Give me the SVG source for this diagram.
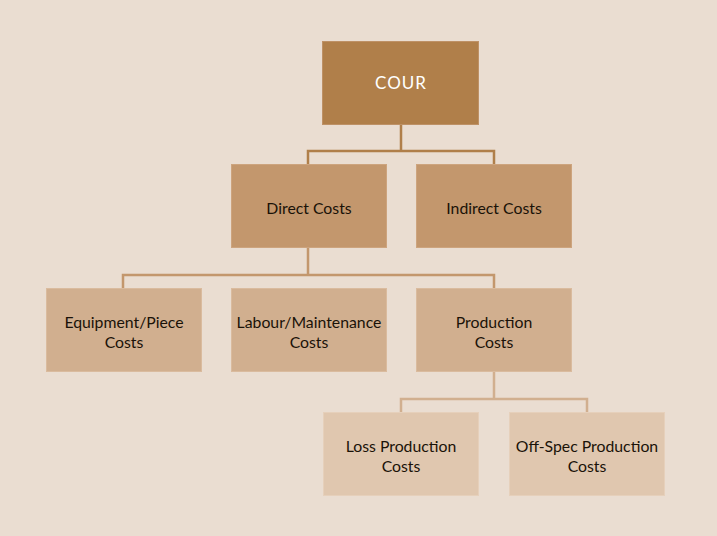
<svg xmlns="http://www.w3.org/2000/svg" width="717" height="536" viewBox="0 0 717 536">
<style>
text{font-family:"Lato","Open Sans",sans-serif;font-size:15.8px;fill:#1a1208;text-anchor:middle}
.l1{fill:#B07F4A;stroke:#BE9166;stroke-width:1}
.l2{fill:#C3976D;stroke:#CDA47E;stroke-width:1}
.l3{fill:#D1AF8F;stroke:#DABB9E;stroke-width:1}
.l4{fill:#E0C7AF;stroke:#E6D0BB;stroke-width:1}
.c{fill:none;stroke-width:2.5}
</style>
<rect width="717" height="536" fill="#EADDD1"/>
<g id="connectors">
<path class="c" stroke="#B07F4A" d="M401,124V151M308,164V151H494V164"/>
<path class="c" stroke="#C3976D" d="M308,247V275M123,288V275H494V288"/>
<path class="c" stroke="#D1AF8F" d="M494,371V399M401,412V399H587V412"/>
</g>
<g id="cour"><rect class="l1" x="322.5" y="41.5" width="156" height="83"/><text x="401" y="89" style="fill:#fff;font-size:17px;letter-spacing:1px">COUR</text></g>
<g id="direct"><rect class="l2" x="231.5" y="164.5" width="155" height="83"/><text x="309" y="214">Direct Costs</text></g>
<g id="indirect"><rect class="l2" x="416.5" y="164.5" width="155" height="83"/><text x="494" y="214">Indirect Costs</text></g>
<g id="equipment"><rect class="l3" x="46.5" y="288.5" width="155" height="83"/><text x="124" y="328">Equipment/Piece</text><text x="124" y="348">Costs</text></g>
<g id="labour"><rect class="l3" x="231.5" y="288.5" width="155" height="83"/><text x="309" y="328">Labour/Maintenance</text><text x="309" y="348">Costs</text></g>
<g id="production"><rect class="l3" x="416.5" y="288.5" width="155" height="83"/><text x="494" y="328">Production</text><text x="494" y="348">Costs</text></g>
<g id="loss"><rect class="l4" x="323.5" y="412.5" width="155" height="83"/><text x="401" y="452">Loss Production</text><text x="401" y="472">Costs</text></g>
<g id="offspec"><rect class="l4" x="509.5" y="412.5" width="155" height="83"/><text x="587" y="452">Off-Spec Production</text><text x="587" y="472">Costs</text></g>
</svg>
